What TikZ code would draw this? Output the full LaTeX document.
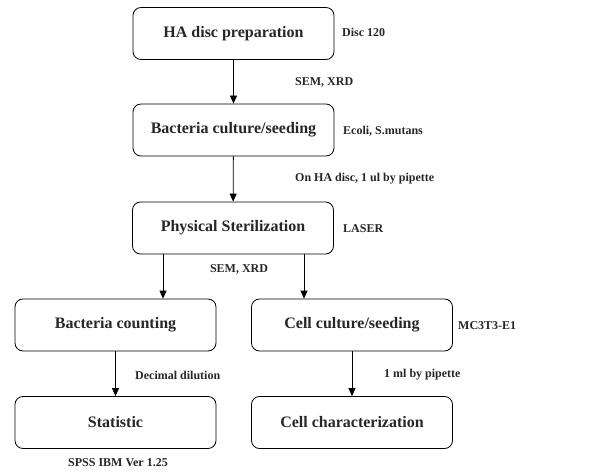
\documentclass[tikz,border=0pt]{standalone}
\usepackage{fontspec}
\setmainfont{Liberation Serif}
\usetikzlibrary{arrows.meta,positioning}

\begin{document}
\begin{tikzpicture}[x=1pt,y=-1pt]
\tikzstyle{stage}=[draw=black, rounded corners=8pt, minimum width=201pt, minimum height=52pt, line width=0.8pt, font=\fontsize{16}{18}\selectfont\bfseries, text=black!85]
\tikzstyle{note}=[anchor=west, inner sep=0pt, font=\fontsize{12}{14}\selectfont\bfseries, text=black!85]
\tikzstyle{flow}=[-{Triangle[length=8pt,width=7pt]}, line width=0.8pt]
\useasboundingbox (0,0) rectangle (594,473);
\node [stage] (prep) at (233.5,33.5) {HA disc preparation};
\node [stage] (culture) at (233.5,130) {Bacteria culture/seeding};
\node [stage] (sterile) at (233,228) {Physical Sterilization};
\node [stage] (count) at (115.5,325) {Bacteria counting};
\node [stage] (cell) at (352,325) {Cell culture/seeding};
\node [stage] (stat) at (115.5,422.5) {Statistic};
\node [stage] (charac) at (352,422.5) {Cell characterization};
\node [note] (disc) at (342,32) {Disc 120};
\node [note] (strain) at (343,131) {Ecoli, S.mutans};
\node [note] (laser) at (343,229) {LASER};
\node [note] (line) at (458,326) {MC3T3-E1};
\node [note] (semA) at (295,82) {SEM, XRD};
\node [note] (drop) at (295,179) {On HA disc, 1 ul by pipette};
\node [note, anchor=center] (semB) at (239,269) {SEM, XRD};
\node [note] (dilute) at (135,375) {Decimal dilution};
\node [note] (pipette) at (384,375) {1 ml by pipette};
\node [note, anchor=center] (spss) at (118,463) {SPSS IBM Ver 1.25};
\coordinate (splitL) at ([xshift=-70pt]sterile.south);
\coordinate (splitR) at ([xshift=71pt]sterile.south);
\draw [flow] (prep) -- (culture);
\draw [flow] (culture) -- (sterile);
\draw [flow] (splitL) -- (splitL |- count.north);
\draw [flow] (splitR) -- (splitR |- cell.north);
\draw [flow] (count) -- (stat);
\draw [flow] (cell) -- (charac);
\end{tikzpicture}
\end{document}
